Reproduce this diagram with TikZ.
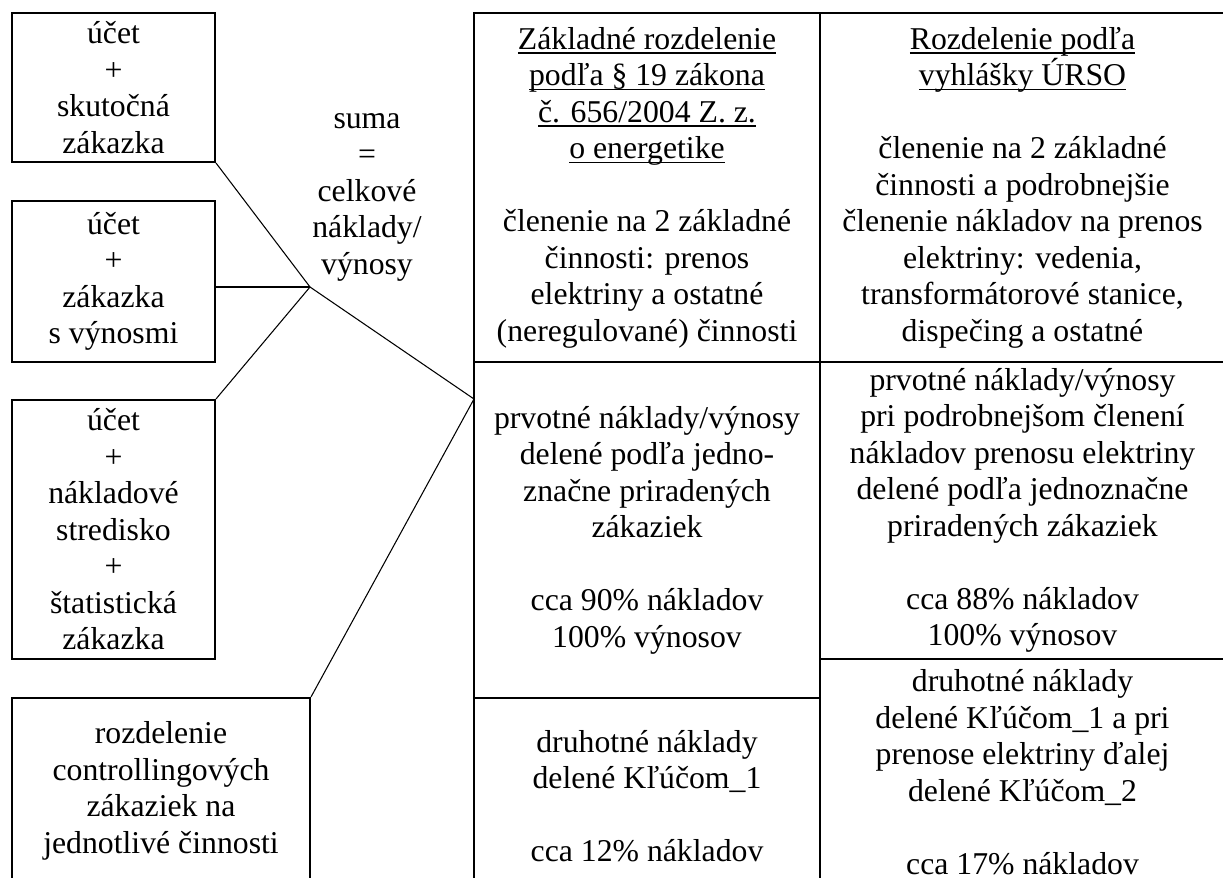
\documentclass[tikz,border=0pt]{standalone}
\usepackage{fontspec}
\setmainfont{Liberation Serif}
\newcommand\uln[1]{\setbox0\hbox{#1}\rlap{\rule[-1.8pt]{\wd0}{0.55pt}}\box0}
\begin{document}
\begin{tikzpicture}[x=0.378pt, y=-0.378pt, font=\fontsize{12}{13.8}\selectfont,
  box/.style={draw, line width=0.8pt, align=center, inner sep=0pt, minimum width=76.7pt},
  cell/.style={draw, line width=0.8pt, align=center, inner sep=0pt}]
\useasboundingbox (0,0) rectangle (1223,877);

% source boxes
\node[box, minimum height=56.3pt] (acc1) at (113.5,87.5) {účet\\+\\skutočná\\zákazka};
\node[box, minimum height=60.9pt] (acc2) at (113.5,281.5) {účet\\+\\zákazka\\s výnosmi};
\node[box, minimum height=97.9pt] (acc3) at (113.5,529.5) {účet\\+\\nákladové\\stredisko\\+\\štatistická\\zákazka};
\node[box, minimum width=112.6pt, minimum height=70.3pt] (ctrl) at (161,791) {rozdelenie\\controllingových\\zákaziek na\\jednotlivé činnosti};
\node[align=center] (suma) at (367,197) {suma\\=\\celkové\\náklady/\\výnosy};

% table, column 1
\node[cell, minimum width=130.8pt, minimum height=131.9pt] (law) at (647,187.5)
  {\uln{Základné rozdelenie}\\\uln{podľa § 19 zákona}\\\uln{č. 656/2004 Z. z.}\\\uln{o energetike}\\[13.8pt]
   členenie na 2 základné\\činnosti: prenos\\elektriny a ostatné\\(neregulované) činnosti};
\node[cell, minimum width=130.8pt, minimum height=127pt] (prim1) at (647,530)
  {prvotné náklady/výnosy\\delené podľa jedno-\\značne priradených\\zákaziek\\[13.8pt]cca 90\% nákladov\\100\% výnosov};
\node[cell, minimum width=130.8pt, minimum height=74.1pt] (sec1) at (647,796)
  {druhotné náklady\\delené Kľúčom\_1\\[13.8pt]cca 12\% nákladov};

% table, column 2
\node[cell, minimum width=153.1pt, minimum height=131.9pt] (urso) at (1022.5,187.5)
  {\uln{Rozdelenie podľa}\\\uln{vyhlášky ÚRSO}\\[13.8pt]
   členenie na 2 základné\\činnosti a podrobnejšie\\členenie nákladov na prenos\\elektriny: vedenia,\\transformátorové stanice,\\dispečing a ostatné};
\node[cell, minimum width=153.1pt, minimum height=112.3pt] (prim2) at (1022.5,510.5)
  {prvotné náklady/výnosy\\pri podrobnejšom členení\\nákladov prenosu elektriny\\delené podľa jednoznačne\\priradených zákaziek\\[13.8pt]cca 88\% nákladov\\100\% výnosov};
\node[cell, minimum width=153.1pt, minimum height=85.4pt] (sec2) at (1022.5,772)
  {druhotné náklady\\delené Kľúčom\_1 a pri\\prenose elektriny ďalej\\delené Kľúčom\_2\\[13.8pt]cca 17\% nákladov};

% connectors
\coordinate (hub) at (310,287);
\coordinate (entry) at (474,399);
\draw (acc1.south east) -- (hub);
\draw (acc2.east |- hub) -- (hub);
\draw (acc3.north east) -- (hub);
\draw (hub) -- (entry);
\draw (ctrl.north east) -- (entry);
\end{tikzpicture}
\end{document}
